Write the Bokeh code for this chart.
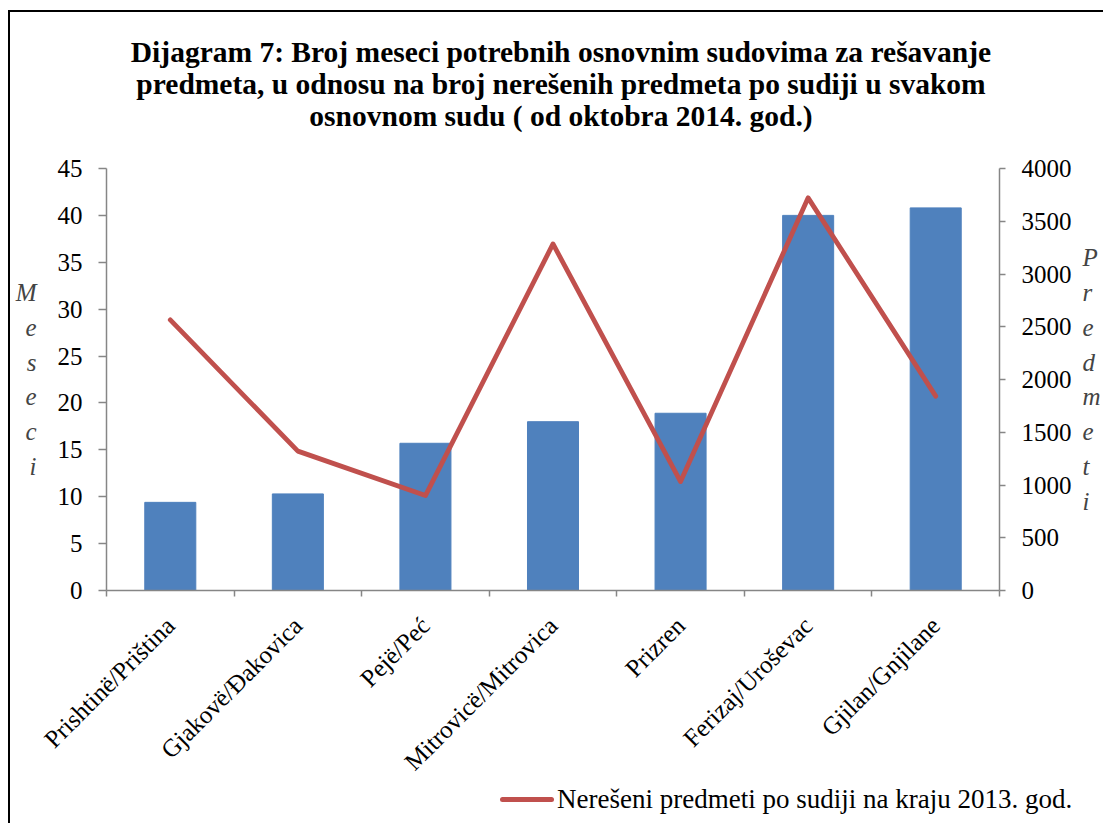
import math
from bokeh.plotting import figure
from bokeh.layouts import column
from bokeh.models import Range1d, LinearAxis, FixedTicker, Title, Div
from bokeh.embed import file_html
from bokeh.resources import INLINE

categories = ["Prishtinë/Priština", "Gjakovë/Đakovica", "Pejë/Peć",
              "Mitrovicë/Mitrovica", "Prizren", "Ferizaj/Uroševac", "Gjilan/Gnjilane"]
months_needed = [9.4, 10.3, 15.7, 18.0, 18.9, 40.0, 40.8]
pending_per_judge = [2565, 1321, 900, 3285, 1033, 3722, 1842]
left_ticks = [0, 5, 10, 15, 20, 25, 30, 35, 40, 45]
right_ticks = [0, 500, 1000, 1500, 2000, 2500, 3000, 3500, 4000]
title_lines = ["Dijagram 7: Broj meseci potrebnih osnovnim sudovima za rešavanje",
               "predmeta, u odnosu na broj nerešenih predmeta po sudiji u svakom",
               "osnovnom sudu ( od oktobra 2014. god.)"]
left_label = "Meseci"
right_label = "Predmeti"
legend_label = "Nerešeni predmeti po sudiji na kraju 2013. god."

FONT = "Liberation Serif"
GRAY = "#868686"
BLUE = "#4F81BD"
RED = "#C0504D"
FS = "25px"

n = len(categories)
centers = [i + 0.5 for i in range(n)]
bounds = [i for i in range(n + 1)]

p = figure(width=1093, height=776, output_backend="svg", toolbar_location=None,
           x_range=Range1d(0, n), y_range=Range1d(left_ticks[0], left_ticks[-1]),
           x_axis_type=None, y_axis_type=None,
           min_border_left=96, min_border_right=104, min_border_top=156, min_border_bottom=198)
p.outline_line_color = None
p.extra_y_ranges = {"right": Range1d(right_ticks[0], right_ticks[-1])}

# spacer between plot area and title block, then title lines (first added is closest)
p.add_layout(Title(text=" ", align="center", text_font=FONT, text_font_size="29.5px",
                   standoff=4), "above")
for line in reversed(title_lines):
    p.add_layout(Title(text=line, align="center", text_font=FONT,
                       text_font_size="29.5px", text_font_style="bold",
                       text_color="black", standoff=-2,
                       padding=dict(left=16, right=0, top=0, bottom=0)), "above")

def style_y(ax, tick_out, label_text):
    ax.axis_label = "\n".join(label_text)
    ax.axis_label_orientation = "horizontal"
    ax.axis_label_text_font = FONT
    ax.axis_label_text_font_style = "italic"
    ax.axis_label_text_font_size = FS
    ax.axis_label_text_line_height = 1.29
    ax.major_label_text_font = FONT
    ax.major_label_text_font_size = FS
    ax.major_label_text_color = "black"
    ax.major_label_standoff = 16
    ax.axis_line_color = GRAY
    ax.axis_line_width = 1.5
    ax.major_tick_line_color = GRAY
    ax.major_tick_line_width = 1.5
    ax.major_tick_out = tick_out
    ax.major_tick_in = 0

yl = LinearAxis(ticker=FixedTicker(ticks=left_ticks, minor_ticks=[]))
style_y(yl, 8, left_label)
yl.axis_label_standoff = 18
p.add_layout(yl, "left")

yr = LinearAxis(y_range_name="right", ticker=FixedTicker(ticks=right_ticks, minor_ticks=[]))
style_y(yr, 6, right_label)
yr.axis_label_standoff = 8
p.add_layout(yr, "right")

xb = LinearAxis(ticker=FixedTicker(ticks=centers, minor_ticks=bounds))
xb.major_label_overrides = {c: lab for c, lab in zip(centers, categories)}
xb.major_label_orientation = math.pi / 4
xb.major_label_text_font = FONT
xb.major_label_text_font_size = FS
xb.major_label_text_color = "black"
xb.major_label_standoff = 25
xb.major_tick_line_color = None
xb.minor_tick_line_color = GRAY
xb.minor_tick_line_width = 1.5
xb.minor_tick_out = 6
xb.minor_tick_in = 0
xb.axis_line_color = GRAY
xb.axis_line_width = 1.5
p.add_layout(xb, "below")

p.ygrid.ticker = FixedTicker(ticks=left_ticks, minor_ticks=[])
p.ygrid.grid_line_color = GRAY
p.ygrid.grid_line_width = 1.5
p.xgrid.visible = False

p.vbar(x=centers, top=months_needed, width=0.4, bottom=0, color=BLUE, line_color=BLUE)
p.line(x=centers, y=pending_per_judge, y_range_name="right", color=RED,
       line_width=4.8, line_cap="round", line_join="round")

# legend below the chart
legend_html = (
    f'<div style="display:flex;align-items:center;white-space:nowrap;'
    f"font-family:'{FONT}';font-size:27px;color:black;line-height:26px;height:26px\">"
    f'<span style="display:inline-block;width:54px;height:5px;border-radius:3px;'
    f'background:{RED};margin-right:3px"></span>{legend_label}</div>'
)
legend_div = Div(text=legend_html, width=600, height=35,
                 styles={"margin-left": "490px", "margin-top": "-2px"})

layout = column(p, legend_div, spacing=0,
                styles={"margin-left": "8px", "margin-top": "10px",
                        "border-left": "2px solid black", "border-top": "2px solid black"})

open("out.html", "w").write(file_html(layout, INLINE))
